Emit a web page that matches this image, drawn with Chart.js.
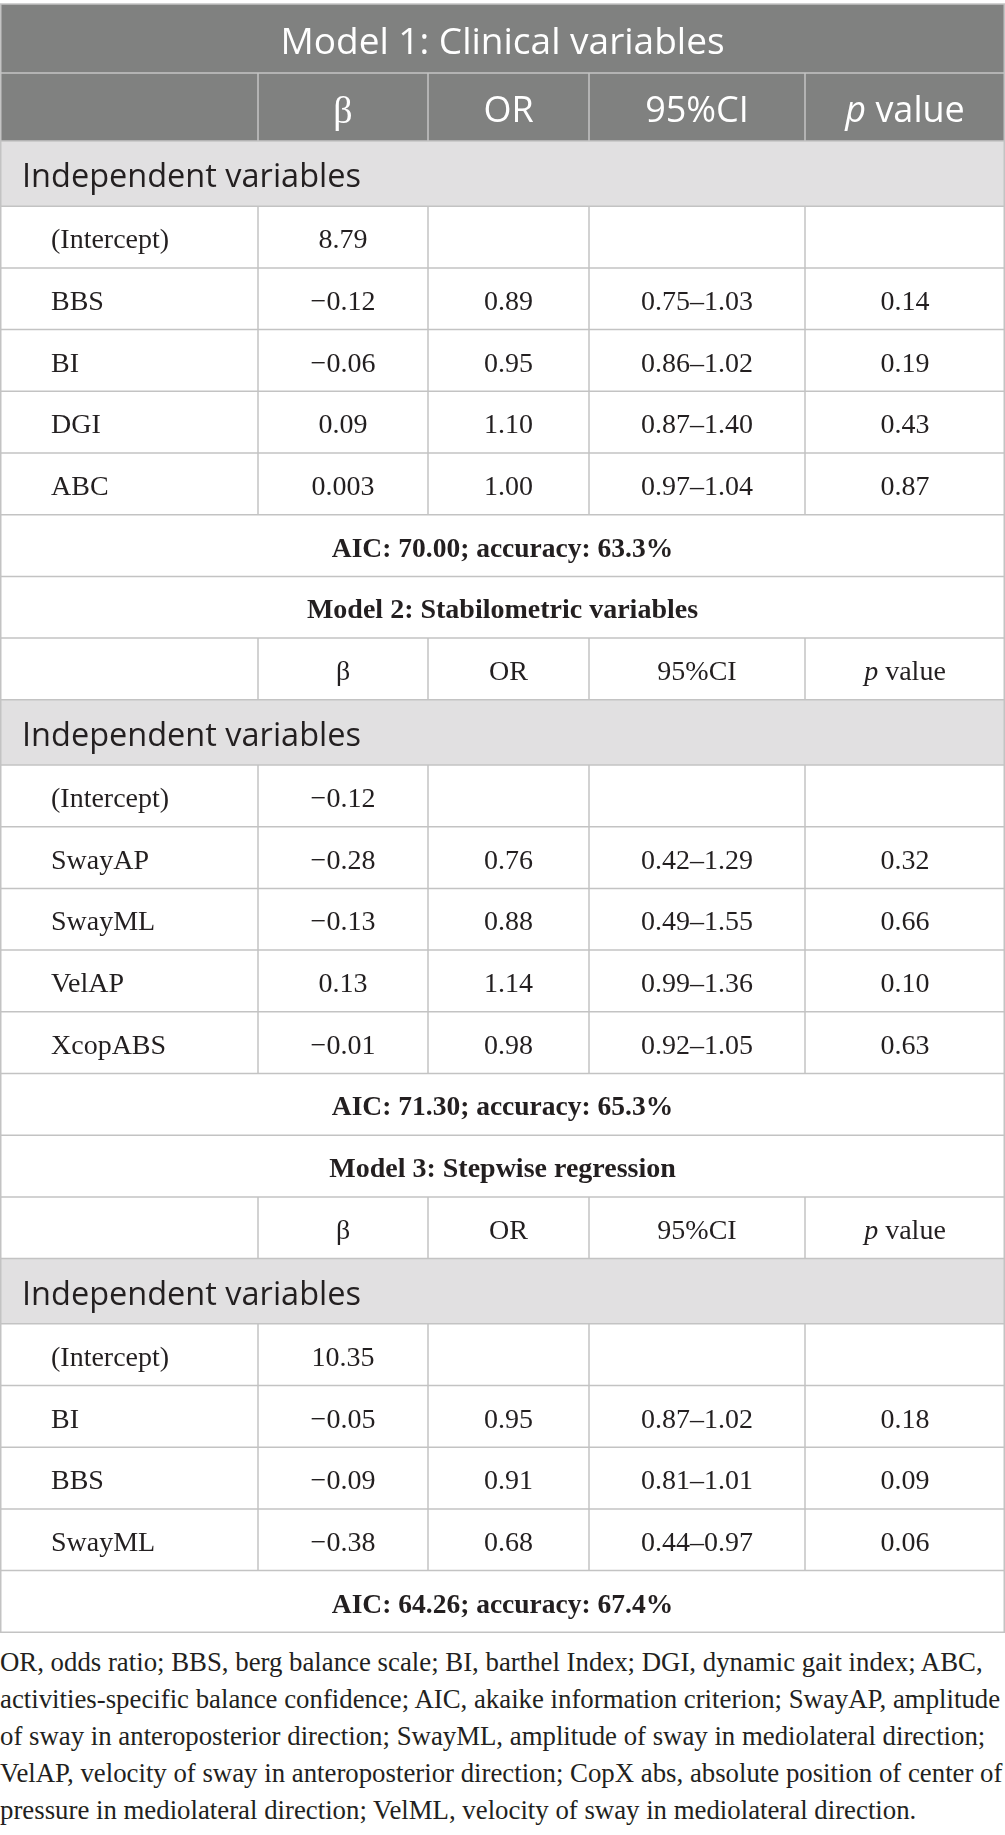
<!DOCTYPE html>
<html>
<head>
<meta charset="utf-8">
<script src="https://cdn.jsdelivr.net/npm/chart.js@4.4.1/dist/chart.umd.min.js"></script>
<style>
  body { margin: 0; background: #fff; }
  #tbl { display: block; }
  .note { font-family: "Liberation Serif", serif; font-size: 26.8px; line-height: 37px; color: #231f20; white-space: nowrap; }
  #note { margin-top: 8px; }
</style>
</head>
<body>
<canvas id="tbl"></canvas>
<div id="note"></div>
<script>
'use strict';

// ******* Table data *******
const headers = ['β', 'OR', '95%CI', 'p value'];
const groupLabel = 'Independent variables';

const m1Title = 'Model 1: Clinical variables';
const m1Vars = ['(Intercept)', 'BBS', 'BI', 'DGI', 'ABC'];
const m1Beta = ['8.79', '−0.12', '−0.06', '0.09', '0.003'];
const m1OR = ['', '0.89', '0.95', '1.10', '1.00'];
const m1CI = ['', '0.75–1.03', '0.86–1.02', '0.87–1.40', '0.97–1.04'];
const m1P = ['', '0.14', '0.19', '0.43', '0.87'];
const m1Fit = 'AIC: 70.00; accuracy: 63.3%';

const m2Title = 'Model 2: Stabilometric variables';
const m2Vars = ['(Intercept)', 'SwayAP', 'SwayML', 'VelAP', 'XcopABS'];
const m2Beta = ['−0.12', '−0.28', '−0.13', '0.13', '−0.01'];
const m2OR = ['', '0.76', '0.88', '1.14', '0.98'];
const m2CI = ['', '0.42–1.29', '0.49–1.55', '0.99–1.36', '0.92–1.05'];
const m2P = ['', '0.32', '0.66', '0.10', '0.63'];
const m2Fit = 'AIC: 71.30; accuracy: 65.3%';

const m3Title = 'Model 3: Stepwise regression';
const m3Vars = ['(Intercept)', 'BI', 'BBS', 'SwayML'];
const m3Beta = ['10.35', '−0.05', '−0.09', '−0.38'];
const m3OR = ['', '0.95', '0.91', '0.68'];
const m3CI = ['', '0.87–1.02', '0.81–1.01', '0.44–0.97'];
const m3P = ['', '0.18', '0.09', '0.06'];
const m3Fit = 'AIC: 64.26; accuracy: 67.4%';

const notes = [
  'OR, odds ratio; BBS, berg balance scale; BI, barthel Index; DGI, dynamic gait index; ABC,',
  'activities-specific balance confidence; AIC, akaike information criterion; SwayAP, amplitude',
  'of sway in anteroposterior direction; SwayML, amplitude of sway in mediolateral direction;',
  'VelAP, velocity of sway in anteroposterior direction; CopX abs, absolute position of center of',
  'pressure in mediolateral direction; VelML, velocity of sway in mediolateral direction.'
];


// ******* Layout / styles *******
const tableW = 1005;
const colEdges = [0, 258, 428, 589, 805, 1005];
const rowH = { darkTitle: 69, darkHead: 68, iv: 65.2, title: 61.7, head: 61.7, data: 61.7, fit: 61.7 };
const dark = '#808180';
const light = '#e1e0e1';
const lineColor = '#c3c3c3';
const ink = '#231f20';
const sans = '"Open Sans", sans-serif';
const serif = '"Liberation Serif", serif';


// ******* Build rows *******
let rows = [];
function addModel(title, vars, beta, or, ci, p, fit, isDark) {
  rows.push({ kind: isDark ? 'darkTitle' : 'title', text: title });
  rows.push({ kind: isDark ? 'darkHead' : 'head', cells: [''].concat(headers) });
  rows.push({ kind: 'iv', text: groupLabel });
  for (let i = 0; i < vars.length; i++) {
    rows.push({ kind: 'data', cells: [vars[i], beta[i], or[i], ci[i], p[i]] });
  }
  rows.push({ kind: 'fit', text: fit });
}
addModel(m1Title, m1Vars, m1Beta, m1OR, m1CI, m1P, m1Fit, true);
addModel(m2Title, m2Vars, m2Beta, m2OR, m2CI, m2P, m2Fit, false);
addModel(m3Title, m3Vars, m3Beta, m3OR, m3CI, m3P, m3Fit, false);

let total = 0;
rows.forEach(r => { r.top = total; total += rowH[r.kind]; r.bottom = total; });


// ******* Cells (one point per text) *******
let cells = [];
rows.forEach(r => {
  let y = (r.top + r.bottom) / 2;
  if (r.kind === 'darkTitle') {
    cells.push({ x: tableW / 2, y: y, text: r.text, size: 37, fam: sans, color: '#fff', align: 'center', cap: 0.714, dy: 2 });
  } else if (r.kind === 'title') {
    cells.push({ x: tableW / 2, y: y, text: r.text, size: 28, fam: serif, bold: true, color: ink, align: 'center', cap: 0.66, dy: 2 });
  } else if (r.kind === 'fit') {
    cells.push({ x: tableW / 2, y: y, text: r.text, size: 27.5, fam: serif, bold: true, color: ink, align: 'center', cap: 0.66, dy: 2 });
  } else if (r.kind === 'iv') {
    cells.push({ x: 22, y: y, text: r.text, size: 32.5, fam: sans, color: ink, align: 'left', cap: 0.714, dy: 2 });
  } else if (r.kind === 'darkHead') {
    r.cells.forEach((t, i) => {
      if (!t) return;
      let isBeta = t === 'β';
      cells.push({ x: (colEdges[i] + colEdges[i + 1]) / 2, y: y, text: t, size: isBeta ? 38 : 36,
        fam: isBeta ? serif : sans, color: '#fff', align: 'center', cap: 0.714, dy: 2 });
    });
  } else {
    r.cells.forEach((t, i) => {
      if (!t) return;
      cells.push({ x: i === 0 ? 51 : (colEdges[i] + colEdges[i + 1]) / 2, y: y, text: t, size: 28,
        fam: serif, color: ink, align: i === 0 ? 'left' : 'center', cap: 0.66, dy: 2 });
    });
  }
});


// ******* Plugin: backgrounds, rules and cell text *******
const tablePlugin = {
  id: 'tableDraw',
  beforeDatasetsDraw(chart) {
    const ctx = chart.ctx;
    const xs = chart.scales.x, ys = chart.scales.y;
    const x0 = xs.getPixelForValue(0), x1 = xs.getPixelForValue(tableW);
    ctx.save();
    rows.forEach(r => {
      let fill = null;
      if (r.kind === 'darkTitle' || r.kind === 'darkHead') fill = dark;
      if (r.kind === 'iv') fill = light;
      if (fill) {
        ctx.fillStyle = fill;
        ctx.fillRect(x0, ys.getPixelForValue(r.top), x1 - x0, ys.getPixelForValue(r.bottom) - ys.getPixelForValue(r.top));
      }
    });
    ctx.strokeStyle = lineColor;
    ctx.lineWidth = 1.5;
    ctx.beginPath();
    rows.forEach(r => {
      let yt = ys.getPixelForValue(r.top), yb = ys.getPixelForValue(r.bottom);
      ctx.moveTo(x0, yt); ctx.lineTo(x1, yt);
      ctx.moveTo(x0, yb); ctx.lineTo(x1, yb);
      if (r.kind === 'data' || r.kind === 'head' || r.kind === 'darkHead') {
        for (let i = 1; i < colEdges.length - 1; i++) {
          let xp = xs.getPixelForValue(colEdges[i]);
          ctx.moveTo(xp, yt); ctx.lineTo(xp, yb);
        }
      }
    });
    ctx.moveTo(x0 + 0.75, ys.getPixelForValue(0)); ctx.lineTo(x0 + 0.75, ys.getPixelForValue(total));
    ctx.moveTo(x1 - 0.75, ys.getPixelForValue(0)); ctx.lineTo(x1 - 0.75, ys.getPixelForValue(total));
    ctx.stroke();
    ctx.restore();
  },
  afterDatasetsDraw(chart) {
    const ctx = chart.ctx;
    const meta = chart.getDatasetMeta(0);
    ctx.save();
    ctx.textBaseline = 'alphabetic';
    meta.data.forEach((pt, i) => {
      const c = cells[i];
      const base = pt.y + c.size * c.cap / 2 + c.dy;
      ctx.fillStyle = c.color;
      if (c.text === 'p value') {
        // italic p followed by upright "value"
        const f1 = 'italic ' + c.size + 'px ' + c.fam;
        const f2 = c.size + 'px ' + c.fam;
        ctx.font = f1; const w1 = ctx.measureText('p').width;
        ctx.font = f2; const w2 = ctx.measureText(' value').width;
        let sx = pt.x - (w1 + w2) / 2;
        ctx.textAlign = 'left';
        ctx.font = f1; ctx.fillText('p', sx, base);
        ctx.font = f2; ctx.fillText(' value', sx + w1, base);
        return;
      }
      ctx.font = (c.bold ? 'bold ' : '') + c.size + 'px ' + c.fam;
      ctx.textAlign = c.align;
      ctx.fillText(c.text, pt.x, base);
    });
    ctx.restore();
  }
};


// ******* Chart *******
const canvas = document.getElementById('tbl');
const padTop = 4;
const canvasH = Math.ceil(padTop + total + 3);
canvas.width = tableW;
canvas.height = canvasH;
canvas.style.width = tableW + 'px';
canvas.style.height = canvasH + 'px';

new Chart(canvas.getContext('2d'), {
  type: 'scatter',
  data: {
    datasets: [{
      data: cells.map(c => ({ x: c.x, y: c.y })),
      pointRadius: 0,
      pointHoverRadius: 0
    }]
  },
  options: {
    responsive: false,
    animation: false,
    events: [],
    layout: { padding: { top: padTop, bottom: canvasH - padTop - total, left: 0, right: 0 } },
    plugins: { legend: { display: false }, tooltip: { enabled: false } },
    scales: {
      x: { type: 'linear', display: false, min: 0, max: tableW },
      y: { type: 'linear', display: false, reverse: true, min: 0, max: total }
    }
  },
  plugins: [tablePlugin]
});


// ******* Footnote *******
const noteBox = document.getElementById('note');
notes.forEach(line => {
  let div = document.createElement('div');
  div.className = 'note';
  div.textContent = line;
  noteBox.appendChild(div);
});
</script>
</body>
</html>
